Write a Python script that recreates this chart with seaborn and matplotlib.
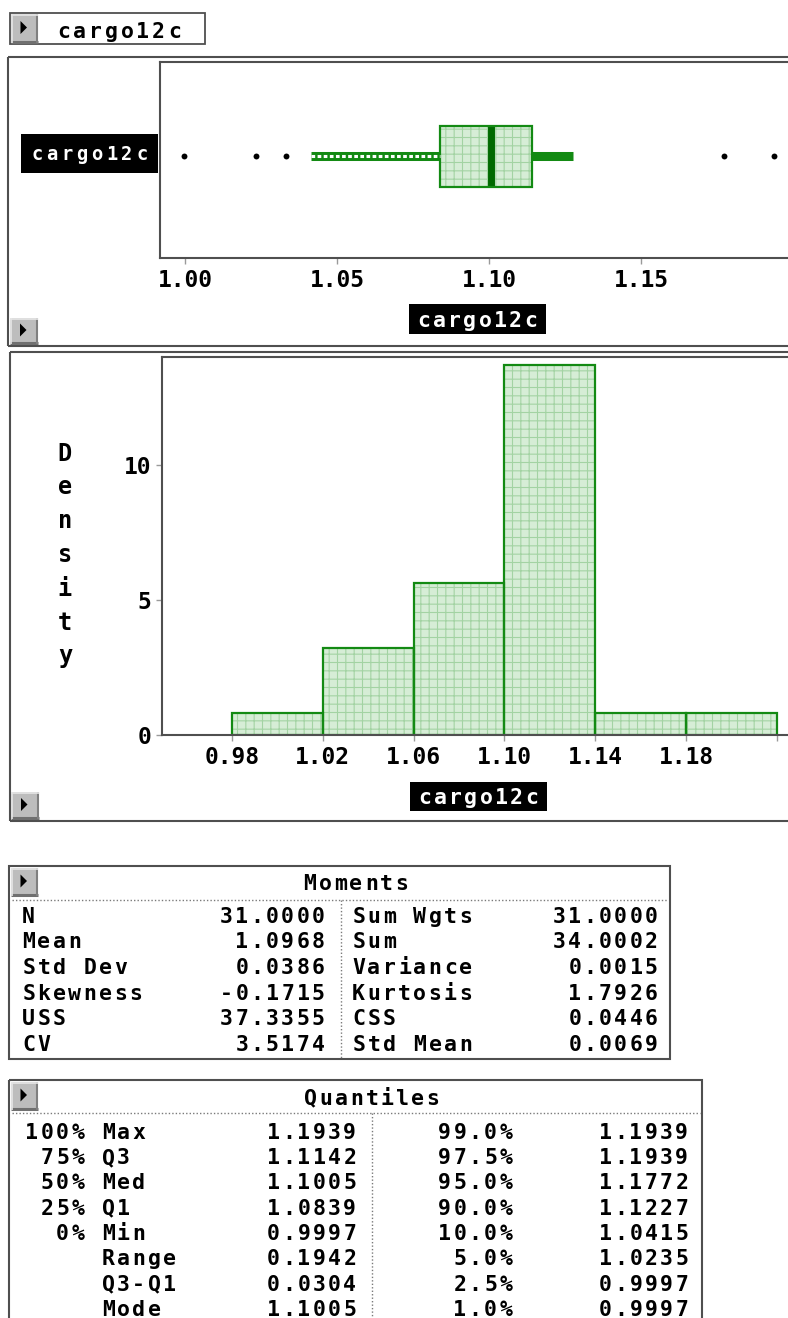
import numpy as np
import pandas as pd
import matplotlib
matplotlib.use("Agg")
import matplotlib.pyplot as plt
from matplotlib.patches import Rectangle, Polygon
import seaborn as sns

# ---------------- data ----------------
variable = "cargo12c"

bin_edges = [0.98, 1.02, 1.06, 1.10, 1.14, 1.18, 1.22]
bin_counts = [1, 4, 7, 17, 1, 1]

q1, median, q3 = 1.0839, 1.1005, 1.1142
whisker_low, whisker_high = 1.0415, 1.1276
outliers = [0.9997, 1.0235, 1.0332, 1.1772, 1.1939]

box_ticks = [1.00, 1.05, 1.10, 1.15]
hist_ticks = [0.98, 1.02, 1.06, 1.10, 1.14, 1.18, 1.22]
hist_tick_labels = ["0.98", "1.02", "1.06", "1.10", "1.14", "1.18", ""]
density_ticks = [0, 5, 10]

moment_names_left = ["N", "Mean", "Std Dev", "Skewness", "USS", "CV"]
moment_values_left = [31.0, 1.0968, 0.0386, -0.1715, 37.3355, 3.5174]
moment_names_right = ["Sum Wgts", "Sum", "Variance", "Kurtosis", "CSS", "Std Mean"]
moment_values_right = [31.0, 34.0002, 0.0015, 1.7926, 0.0446, 0.0069]

quantile_levels = ["100%", "75%", "50%", "25%", "0%", "", "", ""]
quantile_names = ["Max", "Q3", "Med", "Q1", "Min", "Range", "Q3-Q1", "Mode"]
quantile_values = [1.1939, 1.1142, 1.1005, 1.0839, 0.9997, 0.1942, 0.0304, 1.1005]
percentile_levels = ["99.0%", "97.5%", "95.0%", "90.0%", "10.0%", "5.0%", "2.5%", "1.0%"]
percentile_values = [1.1939, 1.1939, 1.1772, 1.1227, 1.0415, 1.0235, 0.9997, 0.9997]

# ---------------- style ----------------
sns.set_style("white")
plt.rcParams["font.family"] = ["DejaVu Sans Mono", "DejaVu Sans"]
plt.rcParams["font.weight"] = "bold"
plt.rcParams["hatch.linewidth"] = 0.8

GREEN = "#138a13"
DARK_GREEN = "#006a00"
FILL = "#d6edd6"
HATCH = "#a3d3a3"
FRAME = "#4f4f4f"
TICK = "#9a9a9a"

W, H = 788, 1318
fig = plt.figure(figsize=(W / 100, H / 100), dpi=100)
fig.patch.set_facecolor("white")


def px_rect(x0, y0, x1, y1):
    return [x0 / W, 1 - y1 / H, (x1 - x0) / W, (y1 - y0) / H]


# full-figure canvas in pixel units for frames, buttons and tables
bg = fig.add_axes([0, 0, 1, 1])
bg.set_xlim(0, W)
bg.set_ylim(H, 0)
bg.axis("off")

TEXT_PT = 15.5
PITCH = 15.3


def fixed_pitch(x, y, s, align="left", pitch=PITCH, size=TEXT_PT, color="black"):
    """Write a string in a fixed character grid (terminal-style spacing)."""
    n = len(s)
    start = {"left": x, "right": x - n * pitch, "center": x - n * pitch / 2}[align]
    cap = size * 100 / 72 * 0.729
    base = y + cap / 2
    for i, ch in enumerate(s):
        if ch == " ":
            continue
        bg.text(start + (i + 0.5) * pitch, base, ch, ha="center", va="baseline",
                fontsize=size, fontweight="bold", color=color,
                family="DejaVu Sans Mono")


def line(xs, ys, color=FRAME, lw=1.5, **kw):
    bg.plot(xs, ys, color=color, lw=lw, solid_capstyle="butt", **kw)


def dotted(xs, ys):
    bg.plot(xs, ys, color="#7a7a7a", lw=1.0, ls=(0, (1, 1.5)))


def button(x0, y0, x1, y1):
    bg.add_patch(Rectangle((x0, y0), x1 - x0, y1 - y0, facecolor="#bdbdbd", edgecolor="none"))
    line([x0, x1], [y1 - 1.5, y1 - 1.5], color="#707070", lw=2.2)
    line([x1 - 1, x1 - 1], [y0, y1], color="#808080", lw=1.5)
    line([x0, x1], [y0 + 0.7, y0 + 0.7], color="#e6e6e6", lw=1.2)
    line([x0 + 0.7, x0 + 0.7], [y0, y1], color="#e6e6e6", lw=1.2)
    cx, cy = (x0 + x1) / 2 - 1, (y0 + y1) / 2 - 1
    bg.add_patch(Polygon([[cx - 3, cy - 6.5], [cx + 3.5, cy], [cx - 3, cy + 6.5]],
                         closed=True, facecolor="black", edgecolor="none"))


def black_label(x0, y0, x1, y1, text, pitch=PITCH, size=TEXT_PT):
    bg.add_patch(Rectangle((x0, y0), x1 - x0, y1 - y0, facecolor="black", edgecolor="none"))
    fixed_pitch((x0 + x1) / 2, (y0 + y1) / 2, text, align="center", pitch=pitch,
                size=size, color="white")


# ---------------- variable selector ----------------
bg.add_patch(Rectangle((10, 13), 195, 31, fill=False, edgecolor=FRAME, lw=1.3))
button(11, 14, 38, 43)
fixed_pitch(56, 30, variable, pitch=15.8)

# ---------------- box plot panel ----------------
line([8, W + 5], [57, 57])
line([8, 8], [57, 346])
line([8, W + 5], [346, 346])
button(10, 318, 38, 344)
black_label(21, 134, 158, 173, variable, pitch=15, size=13.5)
black_label(409, 304, 546, 334, variable)

ax_box = fig.add_axes(px_rect(160, 62, 800, 258))
ax_box.set_facecolor("white")

box_stats = [dict(med=median, q1=q1, q3=q3, whislo=whisker_low, whishi=whisker_high,
                  fliers=[], label="")]
bxp_kw = dict(positions=[0], widths=1.0, patch_artist=True, showcaps=False,
              showfliers=False,
              boxprops=dict(facecolor=FILL, edgecolor=HATCH, linewidth=0, hatch="++"),
              medianprops=dict(color=DARK_GREEN, linewidth=5, solid_capstyle="butt"),
              whiskerprops=dict(color=GREEN, linewidth=6.5, solid_capstyle="butt"))
try:
    ax_box.bxp(box_stats, orientation="horizontal", **bxp_kw)
except TypeError:
    ax_box.bxp(box_stats, vert=False, **bxp_kw)
ax_box.add_patch(Rectangle((q1, -0.5), q3 - q1, 1.0, fill=False, edgecolor=GREEN,
                           lw=1.6, zorder=3))
ax_box.plot([whisker_low, q1], [0, 0], color="white", lw=2.2, ls=(0, (1.2, 0.8)),
            solid_capstyle="butt", zorder=3)
sns.scatterplot(x=outliers, y=np.zeros(len(outliers)), color="black", s=18,
                linewidth=0, ax=ax_box, legend=False, zorder=4)

ax_box.set_xlim(0.99178, 1.20230)
ax_box.set_ylim(-1.672, 1.541)
ax_box.set_yticks([])
ax_box.set_xticks(box_ticks)
ax_box.set_xticklabels([f"{t:.2f}" for t in box_ticks])
ax_box.tick_params(axis="x", direction="out", length=4, width=1, color=TICK,
                   pad=4, labelsize=16.5, labelcolor="black", bottom=True)
ax_box.set_xlabel("")
ax_box.set_ylabel("")
for side in ["left", "top", "bottom"]:
    ax_box.spines[side].set_color(FRAME)
    ax_box.spines[side].set_linewidth(1.5)
ax_box.spines["right"].set_visible(False)

# ---------------- histogram panel ----------------
line([10, W + 5], [352, 352])
line([10, 10], [352, 821])
line([10, W + 5], [821, 821])
button(11, 792, 39, 819)
black_label(410, 782, 547, 811, variable)
for i, ch in enumerate("Density"):
    fixed_pitch(65, 452 + i * 33.8, ch, align="center", size=17)

ax_hist = fig.add_axes(px_rect(162, 357, 800, 735))
ax_hist.set_facecolor("white")
bin_centers = [(a + b) / 2 for a, b in zip(bin_edges[:-1], bin_edges[1:])]
hist_df = pd.DataFrame({variable: bin_centers, "count": bin_counts})

sns.histplot(data=hist_df, x=variable, weights="count", bins=bin_edges, stat="density",
             color=FILL, edgecolor=HATCH, linewidth=0, alpha=1, ax=ax_hist)
for patch in ax_hist.patches:
    patch.set_hatch("++")
sns.histplot(data=hist_df, x=variable, weights="count", bins=bin_edges, stat="density",
             fill=False, color=GREEN, linewidth=1.6, ax=ax_hist)

ax_hist.set_xlim(0.94918, 1.23013)
ax_hist.set_ylim(0, 14)
ax_hist.set_xticks(hist_ticks)
ax_hist.set_xticklabels(hist_tick_labels)
ax_hist.set_yticks(density_ticks)
ax_hist.set_yticklabels([str(t) for t in density_ticks])
ax_hist.tick_params(axis="both", direction="out", length=4, width=1, color=TICK,
                    pad=4, labelsize=16.5, labelcolor="black", bottom=True, left=True)
ax_hist.set_xlabel("")
ax_hist.set_ylabel("")
for side in ["left", "top", "bottom"]:
    ax_hist.spines[side].set_color(FRAME)
    ax_hist.spines[side].set_linewidth(1.5)
ax_hist.spines["right"].set_visible(False)

# ---------------- Moments table ----------------
bg.add_patch(Rectangle((9, 866), 661, 193, fill=False, edgecolor=FRAME, lw=1.5))
button(11, 868, 38, 896)
fixed_pitch(356, 882, "Moments", align="center")
dotted([12, 668], [900, 900])
dotted([341, 341], [900, 1058])
for i in range(len(moment_names_left)):
    y = 915 + 25.6 * i
    fixed_pitch(21, y, moment_names_left[i])
    fixed_pitch(326, y, f"{moment_values_left[i]:.4f}", align="right")
    fixed_pitch(351, y, moment_names_right[i])
    fixed_pitch(659, y, f"{moment_values_right[i]:.4f}", align="right")

# ---------------- Quantiles table ----------------
bg.add_patch(Rectangle((9, 1080), 693, 260, fill=False, edgecolor=FRAME, lw=1.5))
button(11, 1082, 38, 1110)
fixed_pitch(372, 1097, "Quantiles", align="center")
dotted([12, 700], [1113, 1113])
dotted([372, 372], [1113, 1318])
for i in range(len(quantile_names)):
    y = 1131 + 25.3 * i
    fixed_pitch(85.5, y, quantile_levels[i], align="right")
    fixed_pitch(100.5, y, quantile_names[i])
    fixed_pitch(357.5, y, f"{quantile_values[i]:.4f}", align="right")
    fixed_pitch(513.5, y, percentile_levels[i], align="right")
    fixed_pitch(689.5, y, f"{percentile_values[i]:.4f}", align="right")

fig.savefig("out.png", dpi=100, facecolor="white")
